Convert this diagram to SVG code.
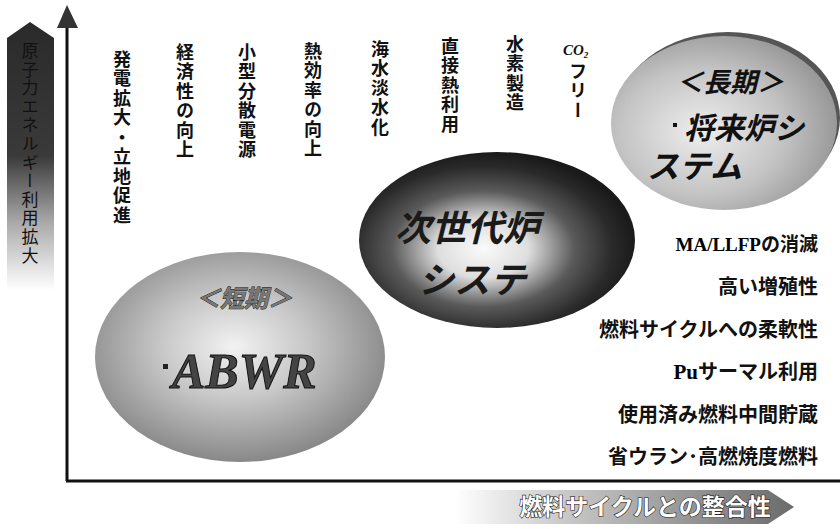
<svg xmlns="http://www.w3.org/2000/svg" width="840" height="529" viewBox="0 0 840 529">
<defs>
<style>
.jp{font-family:"Noto Sans CJK JP","Noto Sans",sans-serif;font-weight:bold;fill:#111}
.col{font-size:18px;writing-mode:vertical-rl;text-orientation:upright;letter-spacing:1.5px}
.lst{font-size:20px;text-anchor:end}
.ser{font-family:"Liberation Serif",serif;font-weight:bold}
.it{font-style:italic}
.axis{stroke:#111;stroke-width:3;fill:none}
</style>
<linearGradient id="leftG" x1="0" y1="22" x2="0" y2="290" gradientUnits="userSpaceOnUse">
<stop offset="0" stop-color="#2a2a2a"/><stop offset="0.5" stop-color="#3a3a3a"/><stop offset="0.75" stop-color="#aaa"/><stop offset="1" stop-color="#fff"/>
</linearGradient>
<linearGradient id="leftT" x1="0" y1="40" x2="0" y2="265" gradientUnits="userSpaceOnUse">
<stop offset="0" stop-color="#fff"/><stop offset="0.6" stop-color="#eee"/><stop offset="0.78" stop-color="#333"/><stop offset="1" stop-color="#000"/>
</linearGradient>
<linearGradient id="botG" x1="455" y1="0" x2="795" y2="0" gradientUnits="userSpaceOnUse">
<stop offset="0" stop-color="#fff"/><stop offset="0.3" stop-color="#ccc"/><stop offset="1" stop-color="#6a6a6a"/>
</linearGradient>
<radialGradient id="abwrG" cx="0.48" cy="0.45" r="0.55">
<stop offset="0" stop-color="#f2f2f2"/><stop offset="0.45" stop-color="#c8c8c8"/><stop offset="1" stop-color="#888"/>
</radialGradient>
<radialGradient id="longG" cx="0.4" cy="0.55" r="0.6">
<stop offset="0" stop-color="#eee"/><stop offset="0.6" stop-color="#c4c4c4"/><stop offset="1" stop-color="#999"/>
</radialGradient>
<radialGradient id="midG" cx="0.45" cy="0.55" r="0.55">
<stop offset="0" stop-color="#fafafa"/><stop offset="0.3" stop-color="#dedede"/><stop offset="0.6" stop-color="#5a5a5a"/><stop offset="0.85" stop-color="#2a2a2a"/><stop offset="1" stop-color="#1a1a1a"/>
</radialGradient>
</defs>
<rect width="840" height="529" fill="#fff"/>

<g id="connectors">
<line class="axis" x1="67" y1="481" x2="67" y2="26"/>
<polygon points="57,28 67,5 78,28" fill="#333"/>
<line class="axis" x1="66" y1="481" x2="840" y2="481"/>
</g>

<g id="y-label">
<polygon points="7,38 30,22 54,38 54,290 7,290" fill="url(#leftG)"/>
<text x="30" y="42" class="jp col" style="font-size:17px;letter-spacing:1.6px;font-weight:normal" fill="url(#leftT)">原子力エネルギー利用拡大</text>
</g>

<g id="x-label">
<polygon points="455,490 768,490 794,507 768,524 455,524" fill="url(#botG)"/>
<text x="645" y="515" class="jp" style="font-size:23px;text-anchor:middle;fill:#fff;stroke:#222;stroke-width:1.2;paint-order:stroke">燃料サイクルとの整合性</text>
</g>

<g id="benefits">
<text x="122" y="50" class="jp col">発電拡大・立地促進</text>
<text x="185" y="43" class="jp col">経済性の向上</text>
<text x="247" y="43" class="jp col">小型分散電源</text>
<text x="313" y="42" class="jp col">熱効率の向上</text>
<text x="380" y="40" class="jp col">海水淡水化</text>
<text x="450" y="37" class="jp col">直接熱利用</text>
<text x="515" y="35" class="jp col">水素製造</text>
<text x="563" y="55" class="ser it" style="font-size:15px;fill:#111">CO<tspan font-size="9" dy="3">2</tspan></text>
<text x="578" y="62" class="jp col">フリー</text>
</g>

<g id="node-mid">
<ellipse cx="497" cy="240" rx="138" ry="88" fill="url(#midG)"/>
<text x="395" y="241" class="jp it" style="font-size:36px;fill:#1a1a1a">次世代炉</text>
<text x="418" y="293" class="jp it" style="font-size:36px;fill:#1a1a1a">システ</text>
</g>

<g id="node-abwr">
<ellipse cx="240" cy="357" rx="145" ry="105" fill="url(#abwrG)"/>
<text x="244" y="307" class="jp it" style="font-size:24px;text-anchor:middle;fill:#777;stroke:#111;stroke-width:0.8;paint-order:stroke">＜短期＞</text>
<rect x="163" y="364" width="5" height="5" fill="#222"/>
<text x="172" y="388" class="ser it" style="font-size:50px;fill:#444;stroke:#111;stroke-width:1">ABWR</text>
</g>

<g id="node-long">
<ellipse cx="728" cy="118" rx="112" ry="86" fill="#555"/>
<ellipse cx="724" cy="123" rx="113" ry="87" fill="url(#longG)"/>
<text x="730" y="92" class="jp it" style="font-size:27px;text-anchor:middle">＜長期＞</text>
<rect x="673" y="123" width="4" height="4" fill="#111"/>
<text x="684" y="139" class="jp it" style="font-size:30px">将来炉シ</text>
<text x="647" y="178" class="jp it" style="font-size:32px">ステム</text>
</g>

<g id="requirements">
<text x="818" y="251" class="lst" style="font-size:19px"><tspan class="ser">MA/LLFP</tspan><tspan class="jp">の消滅</tspan></text>
<text x="818" y="294" class="jp lst">高い増殖性</text>
<text x="818" y="337" class="jp lst">燃料サイクルへの柔軟性</text>
<text x="818" y="379" class="lst"><tspan class="ser" style="font-size:21px">Pu</tspan><tspan class="jp">サーマル利用</tspan></text>
<text x="818" y="422" class="jp lst">使用済み燃料中間貯蔵</text>
<text x="818" y="464" class="jp lst">省ウラン･高燃焼度燃料</text>
</g>
</svg>
